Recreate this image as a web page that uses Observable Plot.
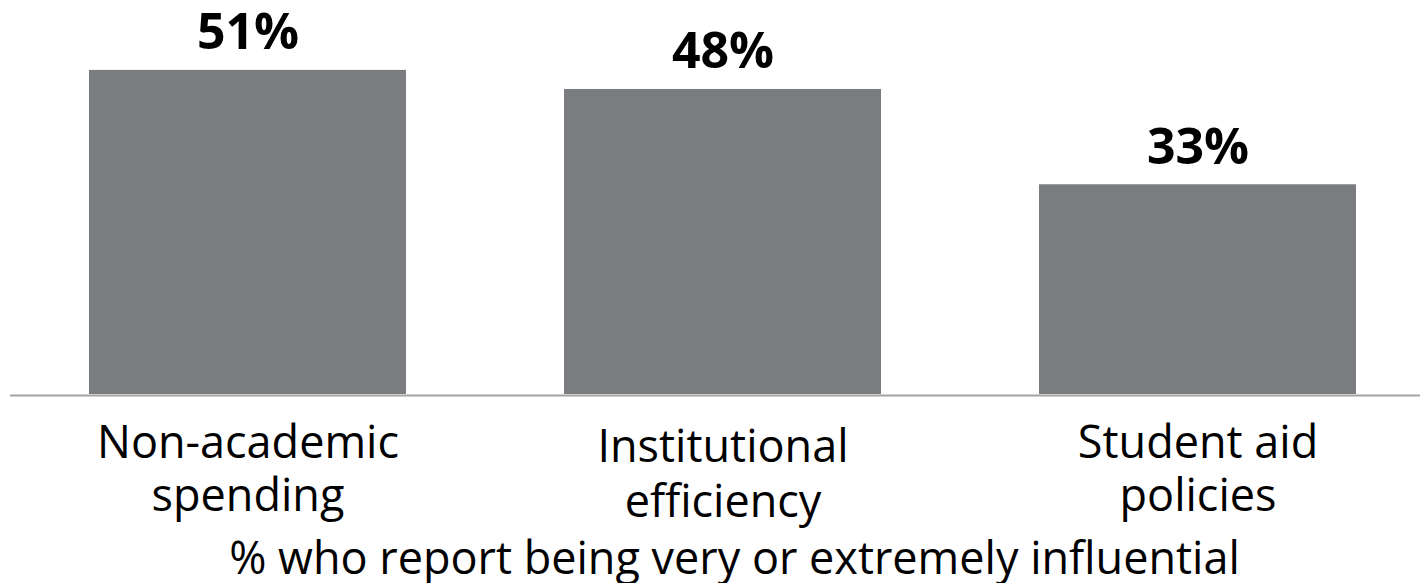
<!DOCTYPE html>
<html>
<head>
<meta charset="utf-8">
<script src="https://cdn.jsdelivr.net/npm/d3@7"></script>
<script src="https://cdn.jsdelivr.net/npm/@observablehq/plot@0.6"></script>
<style>
  html, body { margin: 0; padding: 0; background: #ffffff; }
  #chart svg { display: block; }
</style>
</head>
<body>
<div id="chart"></div>
<script>
const categories = ["Non-academic\nspending", "Institutional\nefficiency", "Student aid\npolicies"];
const values = [51, 48, 33];
const valueLabels = ["51%", "48%", "33%"];
const axisTitle = "% who report being very or extremely influential";

const data = categories.map((c, i) => ({category: c, value: values[i], label: valueLabels[i]}));
const font = "'Open Sans', 'Noto Sans', sans-serif";

const chart = Plot.plot({
  width: 1420,
  height: 583,
  marginTop: 0,
  marginBottom: 189,
  marginLeft: 10,
  marginRight: 0,
  style: {fontFamily: font, color: "#000", background: "#fff"},
  x: {domain: categories, range: [89, 1356], paddingInner: 1/3, paddingOuter: 0, axis: null},
  y: {domain: [0, 62], axis: null},
  marks: [
    Plot.barY(data, {x: "category", y: "value", fill: "#7b7c80"}),
    Plot.ruleY([0], {stroke: "#a3a3a3", strokeWidth: 2, dy: 1}),
    Plot.text(data, {x: "category", y: "value", text: "label", lineAnchor: "bottom", dy: -21,
      fontSize: 50, fontWeight: "bold", fill: "#000"}),
    Plot.text(data.filter((d, i) => i !== 1), {x: "category", y: 0, text: "category", lineAnchor: "top",
      lineHeight: 1.17, dy: 26, fontSize: 45, fill: "#000"}),
    Plot.text(data.filter((d, i) => i === 1), {x: "category", y: 0, text: "category", lineAnchor: "top",
      lineHeight: 1.22, dy: 29, fontSize: 45, fill: "#000"}),
    Plot.text([axisTitle], {frameAnchor: "bottom", lineAnchor: "bottom", dy: 179, dx: 19,
      fontSize: 45, fill: "#000"})
  ]
});
document.getElementById("chart").appendChild(chart);
</script>
</body>
</html>
